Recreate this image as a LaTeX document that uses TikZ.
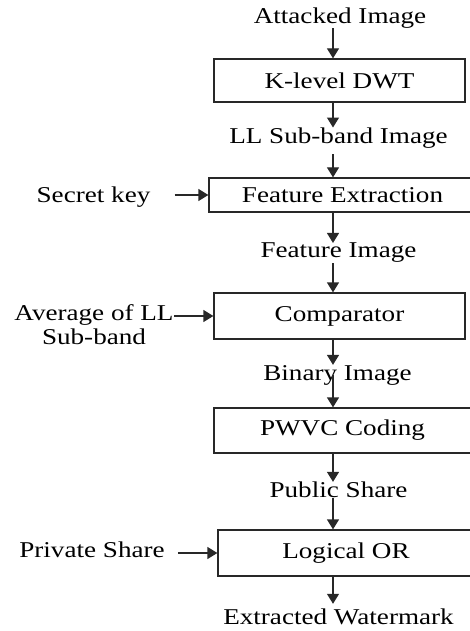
\documentclass[tikz,border=0pt]{standalone}
\usepackage{fontspec}
\setmainfont[FakeStretch=1.2]{Liberation Serif}
\usepackage{tikz}
\usetikzlibrary{arrows.meta, positioning}
\definecolor{boxline}{RGB}{40,40,40}

\begin{document}
\begin{tikzpicture}[x=1pt, y=-1pt,
    blockbox/.style={draw=boxline, line width=1.3pt, inner sep=0pt,
                     font=\fontsize{22.6}{24}\selectfont},
    lbl/.style={inner sep=0pt, font=\fontsize{22.6}{24}\selectfont},
    arr/.style={-{Triangle[length=10pt,width=12pt]}, line width=1.3pt, boxline}]

\useasboundingbox (0,0) rectangle (470,631);
\clip (0,0) rectangle (470,631);

% === Main chain ===
\node[lbl] (attacked) at (340,18) {Attacked Image};
\node[blockbox, minimum width=251pt, minimum height=43pt] (dwt) at (339.5,80.5) {K-level DWT};
\node[lbl] (llimg) at (338.5,138) {LL Sub-band Image};
\node[blockbox, minimum width=267pt, minimum height=34pt] (featext) at (342.5,195) {Feature Extraction};
\node[lbl] (featimg) at (338.5,253) {Feature Image};
\node[blockbox, minimum width=251pt, minimum height=46pt] (cmp) at (339.5,316) {Comparator};
\node[lbl] (binimg) at (337.5,375) {Binary Image};
\node[blockbox, minimum width=257pt, minimum height=45pt] (pwvc) at (342.5,430.5) {PWVC Coding};
\node[lbl] (pubshare) at (338.5,490) {Public Share};
\node[blockbox, minimum width=256pt, minimum height=46pt] (lor) at (346,553) {Logical OR};
\node[lbl] (extracted) at (338.5,617) {Extracted Watermark};

% === Side inputs ===
\node[lbl] (secret) at (93.5,197) {Secret key};
\node[lbl, align=center] (avg) at (94,325) {Average of LL\\Sub-band};
\node[lbl] (private) at (92,550) {Private Share};

% Vertical arrows
\coordinate (spine) at (333,0);
\draw[arr] (attacked.south -| spine) -- (dwt.north -| spine);
\draw[arr] (dwt.south -| spine) -- (llimg.north -| spine);
\draw[arr, shorten <=6pt] (llimg.south -| spine) -- (featext.north -| spine);
\draw[arr] (featext.south -| spine) -- (featimg.north -| spine);
\draw[arr] (featimg.south -| spine) -- (cmp.north -| spine);
\draw[arr] (cmp.south -| spine) -- (binimg.north -| spine);
\draw[arr] (binimg.center -| spine) -- (pwvc.north -| spine);
\draw[arr] (pwvc.south -| spine) -- (pubshare.north -| spine);
\draw[arr] (pubshare.south -| spine) -- (lor.north -| spine);
\draw[arr, shorten >=5pt] (lor.south -| spine) -- (extracted.north -| spine);

% Horizontal arrows
\draw[arr, shorten <=24pt] (secret.east |- featext.west) -- (featext.west);
\draw[arr] (avg.east |- cmp.west) -- (cmp.west);
\draw[arr, shorten <=13pt] (private.east |- lor.west) -- (lor.west);

\end{tikzpicture}
\end{document}
